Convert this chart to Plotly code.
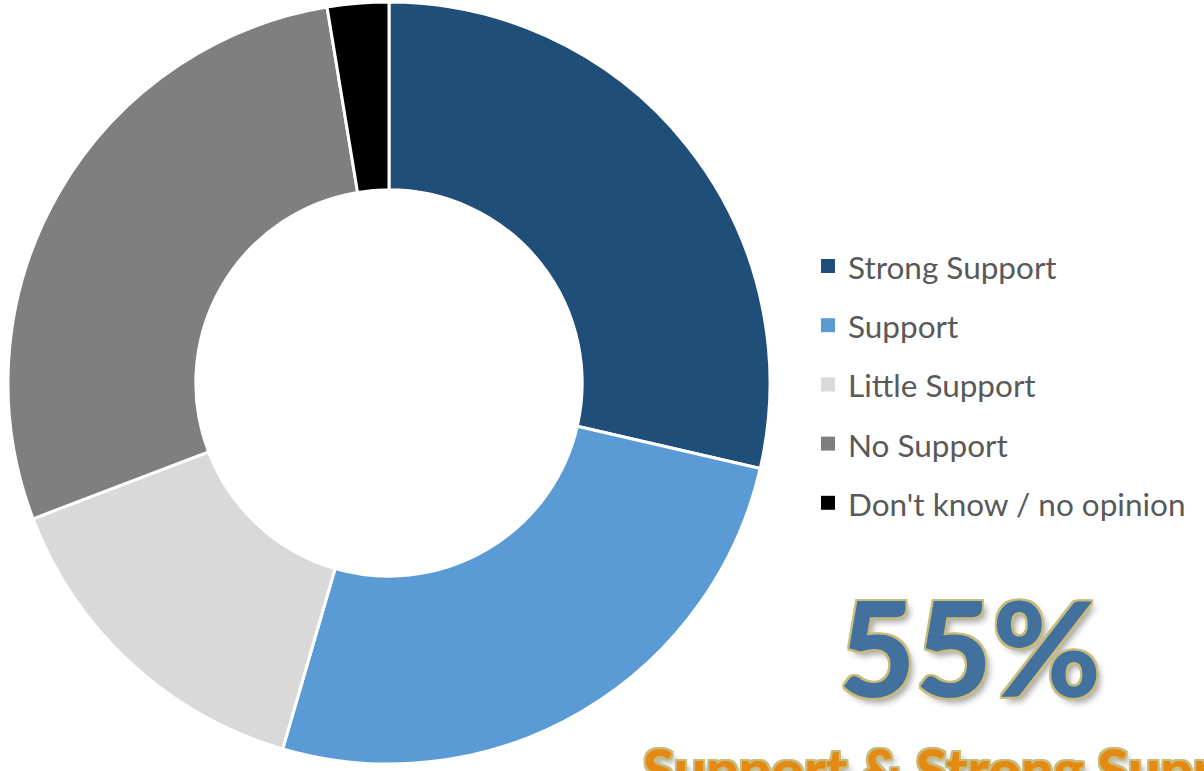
import plotly.graph_objects as go

# Survey response shares (percent)
categories = ["Strong Support", "Support", "Little Support", "No Support", "Don't know / no opinion"]
shares = [28.6, 25.9, 14.7, 28.2, 2.6]
colors = ["#1F4E79", "#5B9BD5", "#D9D9D9", "#7F7F7F", "#000000"]

headline = "55%"
subtitle = "Support & Strong Support"

W, H = 1204, 771
cx, cy, R = 389, 383, 381  # donut centre and radius in pixels

fig = go.Figure(
    go.Pie(
        labels=categories,
        values=shares,
        marker=dict(colors=colors, line=dict(color="white", width=3)),
        hole=0.507,
        sort=False,
        direction="clockwise",
        rotation=0,
        textinfo="none",
        hoverinfo="label+percent",
        showlegend=False,
        domain=dict(x=[(cx - R) / W, (cx + R) / W], y=[(H - cy - R) / H, (H - cy + R) / H]),
    )
)

# Legend drawn as squares + labels on the right
shapes = []
annotations = []
legend_top = 266
legend_step = 59.2
for i, (name, col) in enumerate(zip(categories, colors)):
    yc = legend_top + i * legend_step
    shapes.append(dict(type="rect", xref="paper", yref="paper",
                       x0=821 / W, x1=835 / W, y0=1 - (yc + 7) / H, y1=1 - (yc - 7) / H,
                       fillcolor=col, line=dict(width=0)))
    annotations.append(dict(xref="paper", yref="paper", x=846 / W, y=1 - (yc + 1) / H,
                            xanchor="left", yanchor="middle", showarrow=False,
                            text=name, font=dict(family="Lato", size=31.5, color="#595959")))

gold = "#C8BB7C"
glow_gold = (f"-2px -2px 0 {gold}, 2px -2px 0 {gold}, -2px 2px 0 {gold}, 2px 2px 0 {gold}, "
             f"0 -2px 0 {gold}, 0 2px 0 {gold}, -2px 0 0 {gold}, 2px 0 0 {gold}, "
             "4px 5px 6px rgba(0,0,0,0.35)")

annotations.append(dict(xref="paper", yref="paper", x=970 / W, y=1 - 646 / H,
                        xanchor="center", yanchor="middle", showarrow=False,
                        text=headline,
                        font=dict(family="Lato", size=132, weight=900, color="#41719C",
                                  shadow=glow_gold)))
annotations.append(dict(xref="paper", yref="paper", x=641 / W, y=1 - 733 / H,
                        xanchor="left", yanchor="top", showarrow=False,
                        text=subtitle,
                        font=dict(family="Lato", size=57, weight=900, color="#E48A12",
                                  shadow=glow_gold)))

fig.update_layout(
    width=W, height=H,
    margin=dict(l=0, r=0, t=0, b=0),
    paper_bgcolor="white", plot_bgcolor="white",
    shapes=shapes, annotations=annotations,
)

fig.write_html("out.html")
